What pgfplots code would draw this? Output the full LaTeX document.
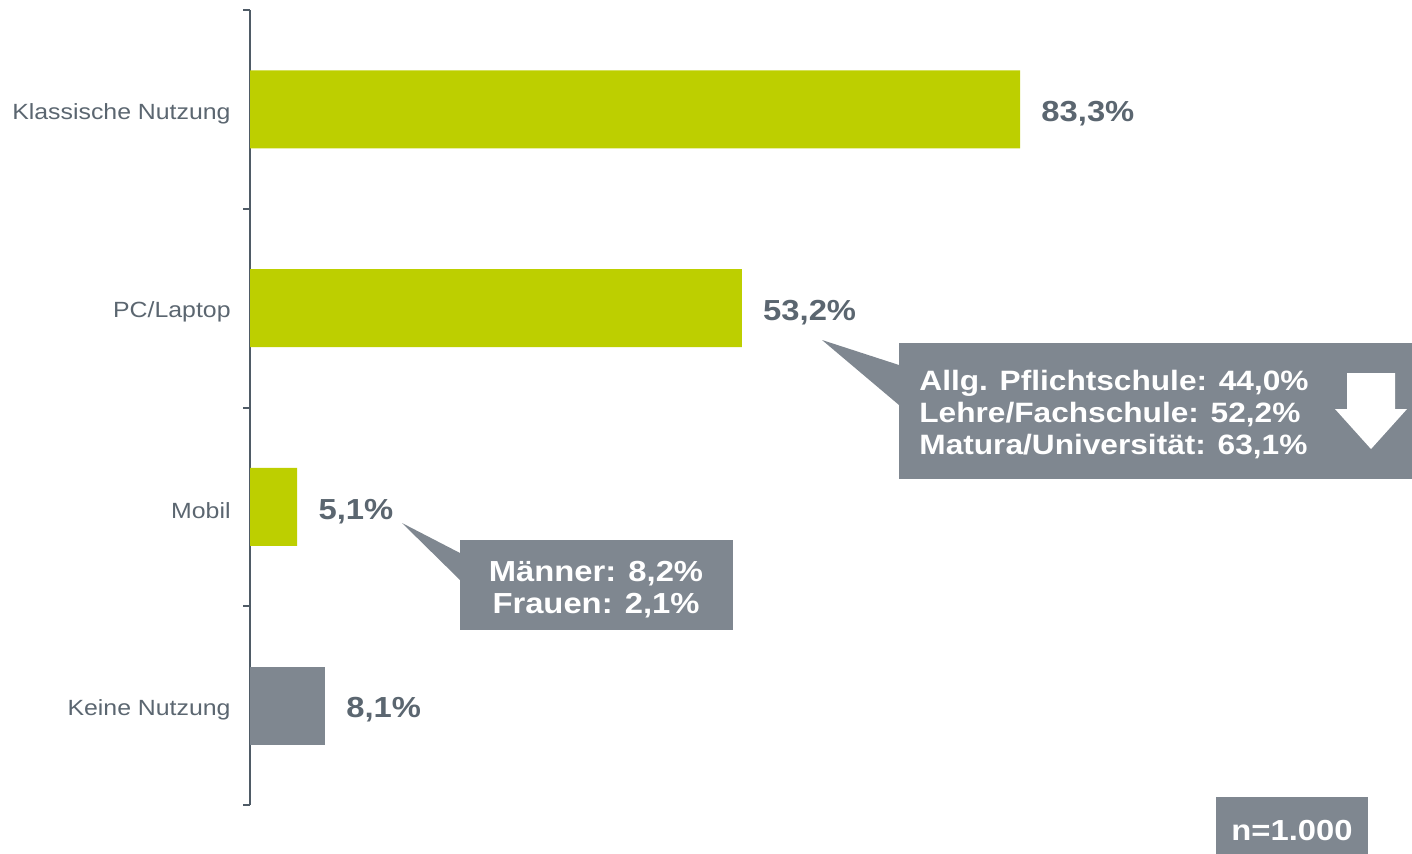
\documentclass[border=0pt]{standalone}
\usepackage{pgfplots}
\pgfplotsset{compat=1.18}
\usepackage{fontspec}
\setmainfont{Liberation Sans}[FakeStretch=1.13]
\definecolor{lime}{HTML}{BDCF00}
\definecolor{slate}{HTML}{7F8790}
\definecolor{txt}{HTML}{5B6670}
\definecolor{axisc}{HTML}{4F5B66}

\begin{document}
\begin{tikzpicture}
\path[use as bounding box] (0,0) rectangle (706pt,-426.5pt);
\begin{axis}[
  at={(125pt,-402.5pt)}, anchor=south west,
  width=581pt, height=397.5pt, scale only axis,
  xbar, bar shift=0pt, bar width=0.392,
  xmin=0, xmax=125.7,
  ymin=-0.5, ymax=3.5, y dir=reverse,
  axis x line=none, axis y line=left,
  y axis line style={-, draw=axisc, line width=1.3pt},
  ytick={0,1,2,3},
  yticklabels={Klassische Nutzung, PC/Laptop, Mobil, Keine Nutzung},
  major tick length=0pt,
  minor ytick={-0.5,0.5,1.5,2.5,3.5},
  minor tick length=3.5pt,
  tick align=outside,
  minor tick style={draw=axisc, line width=1pt},
  yticklabel style={font=\fontsize{11}{13}\selectfont, text=txt, inner sep=0pt, xshift=-9.5pt, yshift=-2pt},
  /pgf/number format/assume math mode=true,
  point meta=x,
  nodes near coords={\pgfmathprintnumber[fixed,fixed zerofill,precision=1,use comma]{\pgfplotspointmeta}\%},
  every node near coord/.append style={anchor=west, inner sep=0pt, xshift=10.5pt, yshift=-2.2pt, font=\bfseries\fontsize{14.5}{17}\selectfont, text=txt},
  clip=false,
]
\addplot[fill=lime, draw=none] coordinates {(83.3,0) (53.2,1) (5.1,2)};
\addplot[fill=slate, draw=none] coordinates {(8.1,3)};
\end{axis}
\begin{scope}[x=0.5pt, y=-0.5pt]
  % callout PC/Laptop
  \fill[slate] (822,340) -- (899,365) -- (899,405) -- cycle;
  \fill[slate] (899,343) rectangle (1420,479);
  \node[anchor=west, align=left, text=white, inner sep=0pt,
        font=\bfseries\fontsize{14}{16}\selectfont] at (919,415)
        {Allg. Pflichtschule: 44,0\%\\Lehre/Fachschule: 52,2\%\\Matura/Universität: 63,1\%};
  \fill[white] (1347,373) -- (1395,373) -- (1395,409) -- (1407,409) -- (1371,449)
        -- (1335,409) -- (1347,409) -- cycle;
  % callout Mobil
  \fill[slate] (402,523) -- (460,553) -- (460,580) -- cycle;
  \fill[slate] (460,540) rectangle (733,630);
  \node[align=center, text=white, inner sep=0pt,
        font=\bfseries\fontsize{14.5}{16}\selectfont] at (596,590)
        {Männer: 8,2\%\\Frauen: 2,1\%};
  % sample size
  \fill[slate] (1216,797) rectangle (1368,860);
  \node[text=white, inner sep=0pt, font=\bfseries\fontsize{14.5}{16}\selectfont]
        at (1292,830) {n=1.000};
\end{scope}
\end{tikzpicture}
\end{document}
